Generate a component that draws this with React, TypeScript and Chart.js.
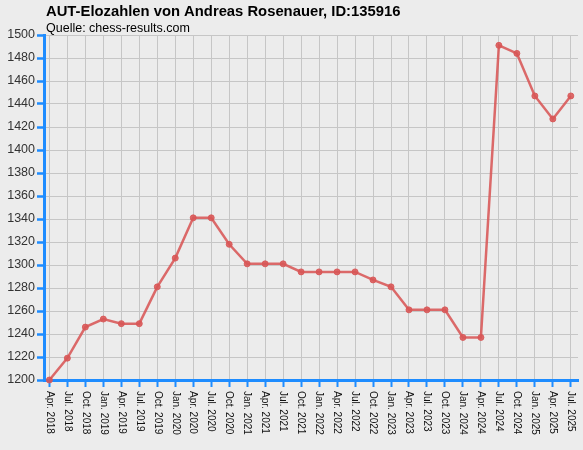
import React, { useEffect, useRef } from 'react';
import { Chart, registerables } from 'chart.js';

Chart.register(...registerables);

const TITLE = 'AUT-Elozahlen von Andreas Rosenauer, ID:135916';
const SUBTITLE = 'Quelle: chess-results.com';

const quarters: string[] = [
    'Apr. 2018', 'Jul. 2018', 'Oct. 2018',
    'Jan. 2019', 'Apr. 2019', 'Jul. 2019', 'Oct. 2019',
    'Jan. 2020', 'Apr. 2020', 'Jul. 2020', 'Oct. 2020',
    'Jan. 2021', 'Apr. 2021', 'Jul. 2021', 'Oct. 2021',
    'Jan. 2022', 'Apr. 2022', 'Jul. 2022', 'Oct. 2022',
    'Jan. 2023', 'Apr. 2023', 'Jul. 2023', 'Oct. 2023',
    'Jan. 2024', 'Apr. 2024', 'Jul. 2024', 'Oct. 2024',
    'Jan. 2025', 'Apr. 2025', 'Jul. 2025',
];

const elo: number[] = [
    1200, 1219, 1246,
    1253, 1249, 1249, 1281,
    1306, 1341, 1341, 1318,
    1301, 1301, 1301, 1294,
    1294, 1294, 1294, 1287,
    1281, 1261, 1261, 1261,
    1237, 1237, 1491, 1484,
    1447, 1427, 1447,
];

const Y_MIN = 1200;
const Y_MAX = 1500;
const Y_STEP = 20;

const AXIS_BLUE = '#1e8cff';
const GRID_GREY = '#c6c6c6';
const LINE_RED = 'rgba(216, 86, 86, 0.88)';
const FONT = '"Liberation Sans", Arial, sans-serif';

// draws the title, source line and the downward rotated quarter labels
const textPlugin = {
    id: 'eloText',
    afterDraw(chart: Chart) {
        const ctx = chart.ctx;
        ctx.save();
        ctx.fillStyle = '#000';
        ctx.textAlign = 'left';
        ctx.textBaseline = 'alphabetic';
        ctx.font = `bold 14.8px ${FONT}`;
        ctx.fillText(TITLE, 46, 16);
        ctx.font = `12.5px ${FONT}`;
        ctx.fillText(SUBTITLE, 46, 31.5);

        const xs = chart.scales.x;
        ctx.font = `10px ${FONT}`;
        ctx.fillStyle = '#111';
        quarters.forEach((label, i) => {
            const px = xs.getPixelForValue(i);
            ctx.save();
            ctx.translate(px, xs.top + 11);
            ctx.rotate(Math.PI / 2);
            ctx.textAlign = 'left';
            ctx.textBaseline = 'middle';
            ctx.fillText(label, 0, 0);
            ctx.restore();
        });
        ctx.restore();
    },
};

const EloChart: React.FC = () => {
    const canvasRef = useRef<HTMLCanvasElement | null>(null);
    const chartRef = useRef<Chart | null>(null);

    useEffect(() => {
        if (!canvasRef.current) return;
        if (chartRef.current) chartRef.current.destroy();

        chartRef.current = new Chart(canvasRef.current, {
            type: 'line',
            data: {
                datasets: [
                    {
                        label: 'Elo',
                        data: elo.map((v, i) => ({ x: i, y: v })),
                        borderColor: LINE_RED,
                        backgroundColor: LINE_RED,
                        borderWidth: 2.5,
                        pointRadius: 3,
                        pointBorderWidth: 1,
                        pointBackgroundColor: LINE_RED,
                        pointBorderColor: LINE_RED,
                        tension: 0,
                        clip: false,
                    },
                ],
            },
            options: {
                animation: false,
                responsive: true,
                maintainAspectRatio: false,
                layout: { padding: { top: 35, right: 4, bottom: 0, left: 0 } },
                plugins: {
                    legend: { display: false },
                    title: { display: false },
                    tooltip: { enabled: false },
                },
                scales: {
                    x: {
                        type: 'linear',
                        min: -0.3,
                        max: 29.4,
                        afterFit: (scale: any) => {
                            scale.height = 70;
                        },
                        ticks: {
                            display: false,
                            stepSize: 1,
                            includeBounds: false,
                            autoSkip: false,
                            maxTicksLimit: 100,
                        },
                        grid: {
                            color: GRID_GREY,
                            lineWidth: 1,
                            drawTicks: true,
                            tickLength: 7,
                            tickColor: AXIS_BLUE,
                            tickWidth: 2,
                        },
                        border: { display: true, color: AXIS_BLUE, width: 3 },
                    },
                    y: {
                        min: Y_MIN,
                        max: Y_MAX,
                        afterFit: (scale: any) => {
                            scale.width = 44;
                        },
                        ticks: {
                            stepSize: Y_STEP,
                            autoSkip: false,
                            padding: 2,
                            color: '#333',
                            font: { family: FONT, size: 12.5 },
                            callback: (value: any) => String(value),
                        },
                        grid: {
                            color: GRID_GREY,
                            lineWidth: 1,
                            drawTicks: true,
                            tickLength: 7,
                            tickColor: AXIS_BLUE,
                            tickWidth: 2.5,
                        },
                        border: { display: true, color: AXIS_BLUE, width: 3 },
                    },
                },
            },
            plugins: [textPlugin],
        });

        return () => {
            if (chartRef.current) {
                chartRef.current.destroy();
                chartRef.current = null;
            }
        };
    }, []);

    return <canvas ref={canvasRef} />;
};

export default function App() {
    return (
        <div
            style={{
                position: 'fixed',
                left: 0,
                top: 0,
                width: 583,
                height: 450,
                background: '#ececec',
            }}
        >
            <EloChart />
        </div>
    );
}
